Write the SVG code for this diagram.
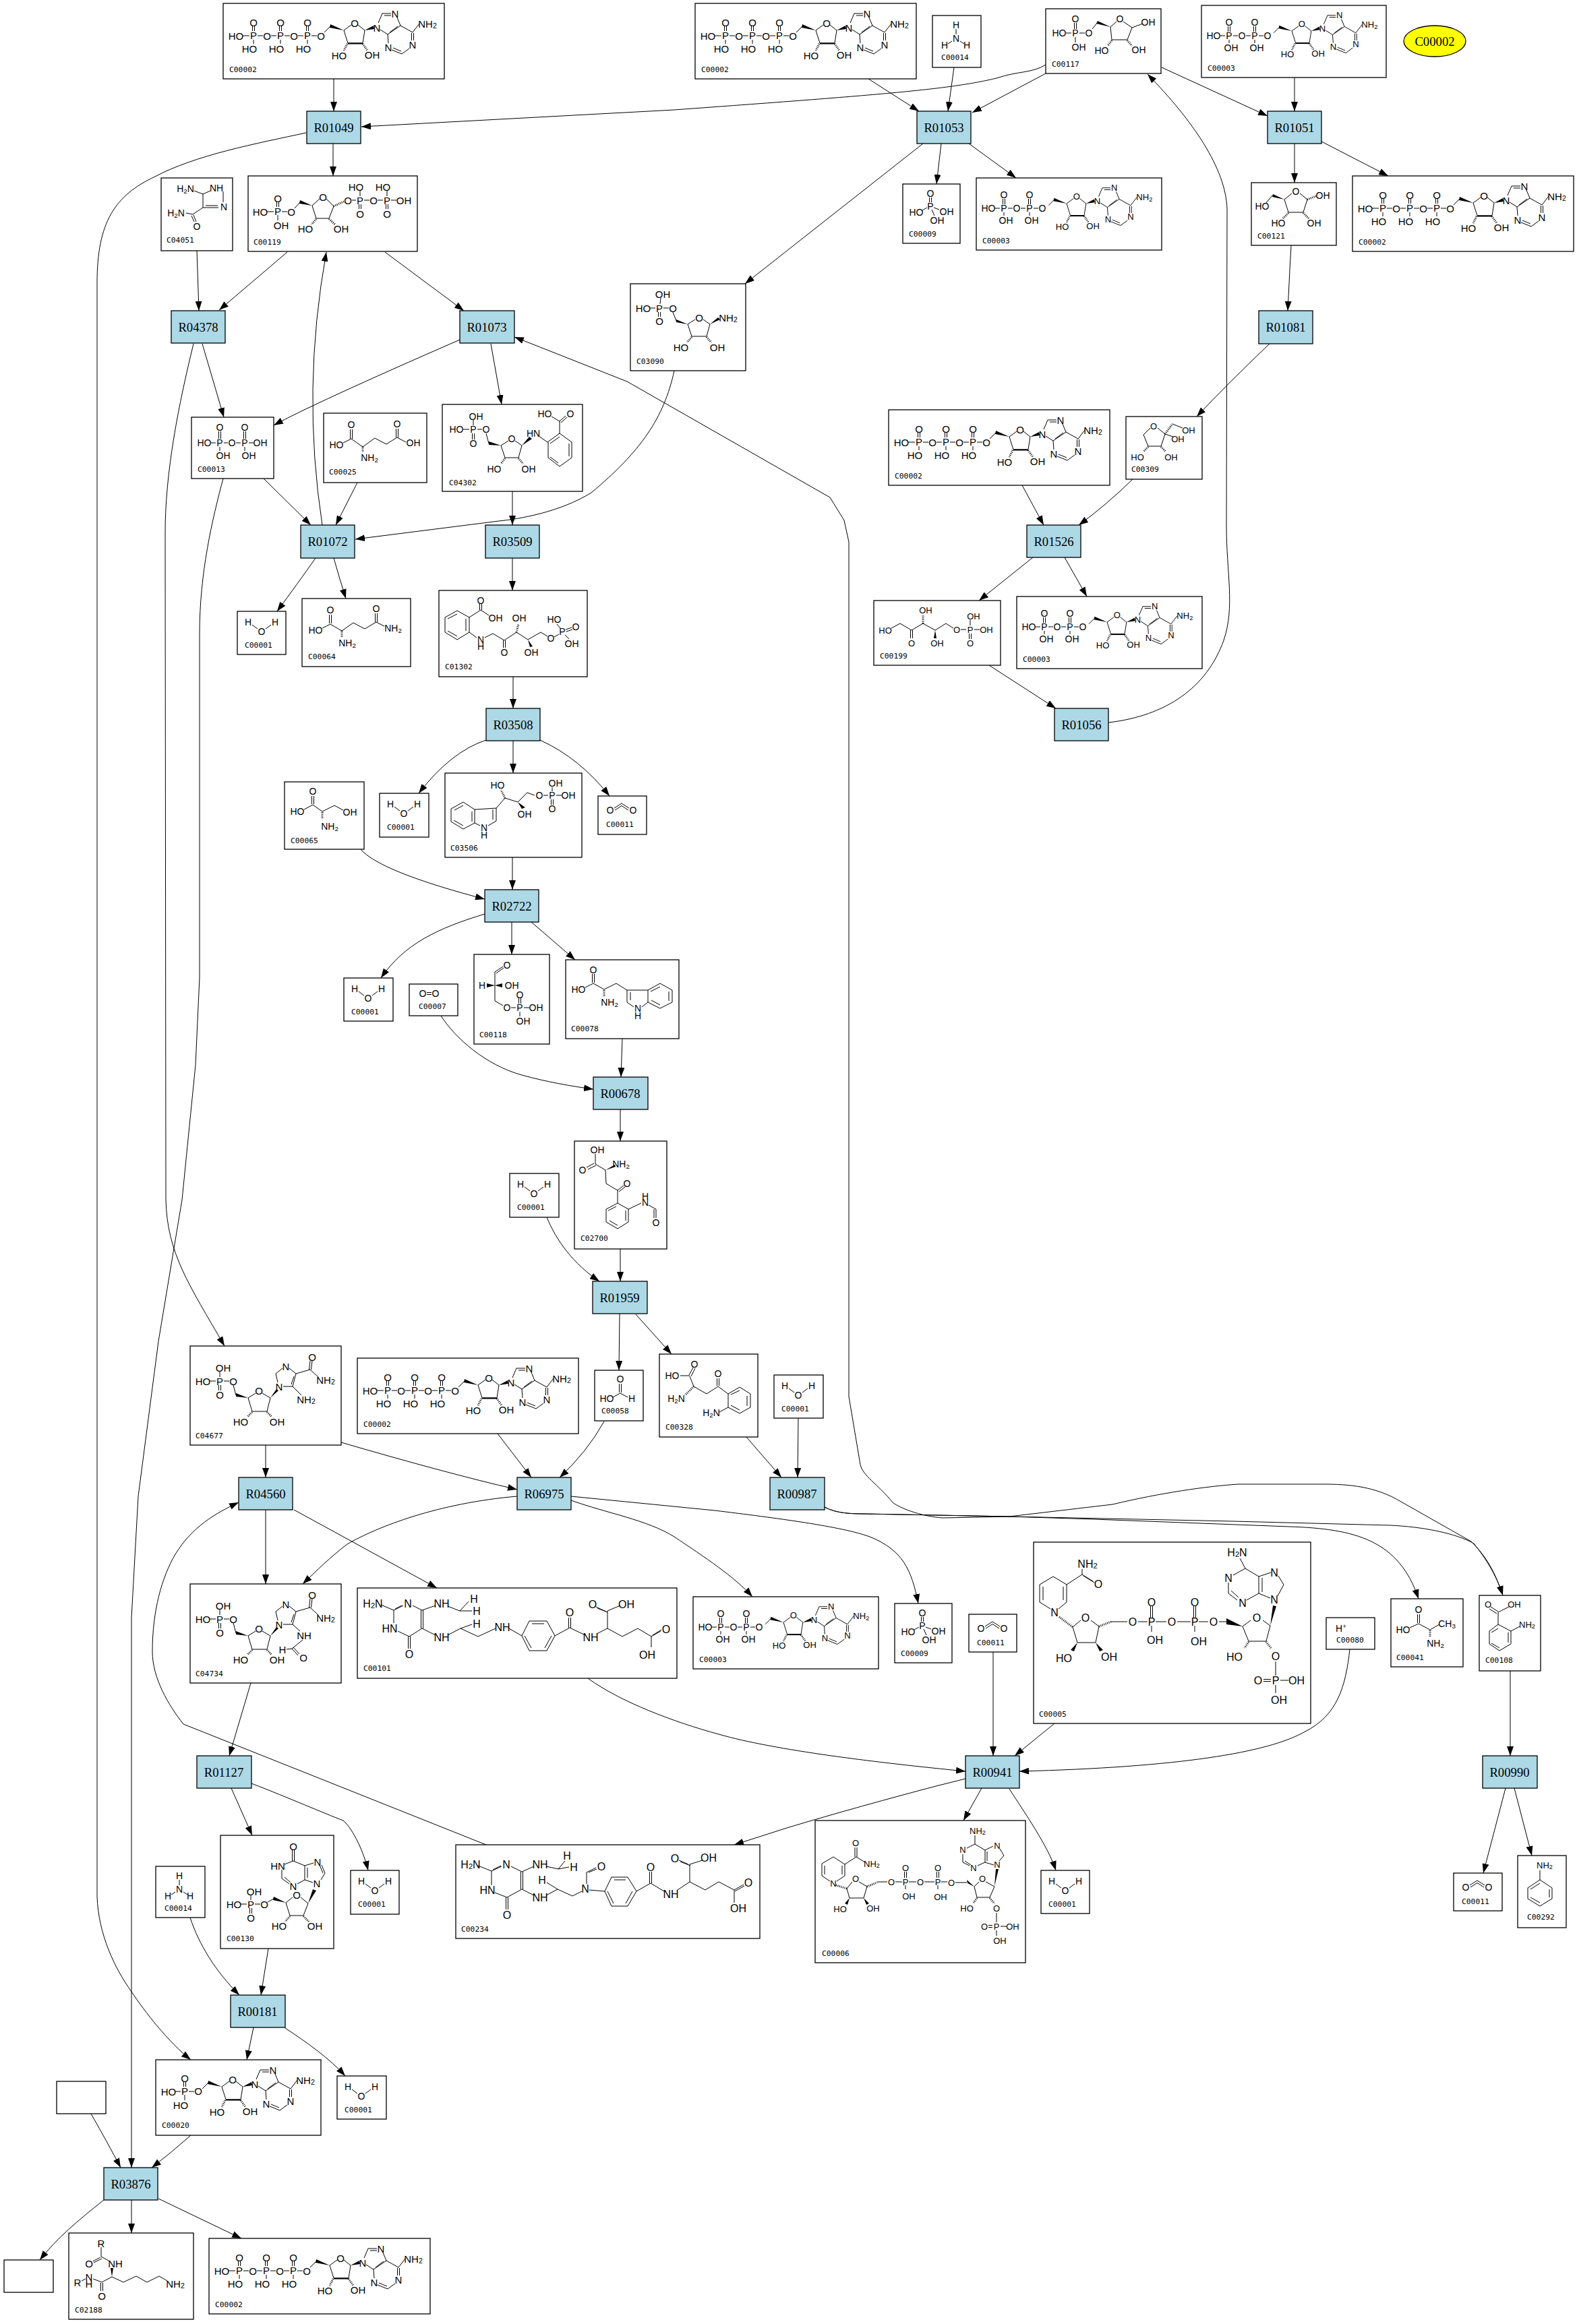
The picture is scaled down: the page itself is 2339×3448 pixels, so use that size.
<svg xmlns="http://www.w3.org/2000/svg" width="2339" height="3448" viewBox="0 0 2339 3448">
<style>
svg{font-size:15px}
.a{font-family:"Liberation Sans",Arial,sans-serif;text-anchor:middle;dominant-baseline:central}
.s{font-size:.7em}
.b{fill:none;stroke:#000;stroke-width:1}
.h{fill:none;stroke:#000;stroke-width:3;stroke-dasharray:1 1.6}
.c{fill:#fff;stroke:#000;stroke-width:1.3}
.r{fill:#add8e6;stroke:#000;stroke-width:1.3}
.y{fill:#ff0;stroke:#000;stroke-width:1.3}
.l{font-family:"DejaVu Sans Mono","Liberation Mono",monospace;font-size:11.3px;dominant-baseline:central}
.t{font-family:"Liberation Serif","Times New Roman",serif;font-size:18.7px;text-anchor:middle;dominant-baseline:central}
.e{fill:none;stroke:#000;stroke-width:1;marker-end:url(#ah)}
</style>
<defs>
<marker id="ah" markerUnits="userSpaceOnUse" markerWidth="14" markerHeight="10" refX="14" refY="5" orient="auto"><polygon points="0,0 14,5 0,10"/></marker>
<g id="ado">
<path class="b" d="M-29,3L-20,-6M0,0L11,-8M21,-8L31,0L28,19L6,19L0,0M51,-11L57,-25H70M60,-22H70M79,-19L84,-7L65,6L54,-1M80,-6L68,3M84,-7L102,3L112,-10M100.5,4V15M103.5,4V15M65,6L66,19M71,29L86,35L97,27M73,26L85,31"/>
<path class="b" stroke-width="2" d="M6,19.500H28" style="stroke-width:2"/>
<polygon points="-20,-9 -21,-4 0,0"/><polygon points="31,0 44,-7 45,-2"/>
<path class="h" d="M5,20L0,30M28,20L35,30"/>
<text class="a" x="16" y="-11">O</text><text class="a" x="-7" y="37">HO</text><text class="a" x="42" y="36">OH</text><text class="a" x="49" y="-4">N</text><text class="a" x="76" y="-25">N</text><text class="a" x="102" y="21">N</text><text class="a" x="66" y="25">N</text><text class="a" x="124" y="-10">NH<tspan class="s" dy="3">2</tspan></text>
</g>
<g id="atp">
<path class="b" d="M29,48H39M51,48H59M71,48H79M91,48H99M111,48H119M131,48H139M43.5,34V41M46.5,34V41M83.5,34V41M86.5,34V41M123.5,34V41M126.5,34V41M45,54V60M85,54V60M125,54V60"/>
<text class="a" x="19" y="48">HO</text><text class="a" x="45" y="47">P</text><text class="a" x="45" y="28">O</text><text class="a" x="39" y="67">HO</text><text class="a" x="65" y="48">O</text><text class="a" x="85" y="47">P</text><text class="a" x="85" y="28">O</text><text class="a" x="79" y="67">HO</text><text class="a" x="105" y="48">O</text><text class="a" x="125" y="47">P</text><text class="a" x="125" y="28">O</text><text class="a" x="119" y="67">HO</text><text class="a" x="145" y="48">O</text>
<use href="#ado" x="179" y="40"/>
</g>
<g id="adp" font-size="14">
<path class="b" d="M27,45H35M47,45H54M66,45H73M85,45H92M39.5,31V39M42.5,31V39M77.5,31V39M80.5,31V39M41,51V56M79,51V56"/>
<text class="a" x="18" y="45">HO</text><text class="a" x="41" y="45">P</text><text class="a" x="41" y="25">O</text><text class="a" x="44" y="63">OH</text><text class="a" x="60" y="45">O</text><text class="a" x="79" y="45">P</text><text class="a" x="79" y="25">O</text><text class="a" x="82" y="63">OH</text><text class="a" x="98" y="45">O</text>
<use href="#ado" transform="translate(134,38) scale(.93)"/>
</g>
<g id="amp">
<path class="b" d="M29,47H37M49,47H57M41.500,33V40M44.500,33V40M43,52V60"/>
<text class="a" x="19" y="47">HO</text><text class="a" x="43" y="46">P</text><text class="a" x="43" y="27">O</text><text class="a" x="37" y="67">HO</text><text class="a" x="63" y="46">O</text>
<use href="#ado" x="98" y="40"/>
</g>
<g id="prpp">
<path class="b" d="M28,53H38M50,53H58M42.500,39V46M45.500,39V46M44,58V66M69,48L77,39M95,44L106,34M116,34L127,45L120,63L101,63L95,44M154,36H160M172,36H180M192,36H200M212,36H220M166,22V30M206,22V30M164.500,42V49M167.500,42V49M204.500,42V49M207.500,42V49"/>
<polygon points="77,36 76,41 95,44"/><path class="h" d="M101,64L94,72M120,64L129,72M127,45L142,38"/>
<text class="a" x="18" y="53">HO</text><text class="a" x="44" y="52">P</text><text class="a" x="44" y="33">O</text><text class="a" x="49" y="73">OH</text><text class="a" x="64" y="53">O</text><text class="a" x="111" y="31">O</text><text class="a" x="85" y="78">HO</text><text class="a" x="138" y="78">OH</text><text class="a" x="148" y="36">O</text><text class="a" x="166" y="36">P</text><text class="a" x="160" y="16">HO</text><text class="a" x="166" y="56">O</text><text class="a" x="186" y="36">O</text><text class="a" x="206" y="36">P</text><text class="a" x="200" y="16">HO</text><text class="a" x="206" y="56">O</text><text class="a" x="231" y="36">OH</text>
</g>
<g id="m04051" font-size="14">
<path class="b" d="M49,19L62,24V44H85M66,41H84M62,24L73,19M92,20V36M62,44L47,54L37,52M45,56L49,65M48,55L52,65"/>
<text class="a" x="36" y="16">H<tspan class="s" dy="3">2</tspan><tspan dy="-3">N</tspan></text><text class="a" x="82" y="15">NH</text><text class="a" x="93" y="43">N</text><text class="a" x="22" y="52">H<tspan class="s" dy="3">2</tspan><tspan dy="-3">N</tspan></text><text class="a" x="53" y="72">O</text>
</g>
<g id="ppi" font-size="14">
<path class="b" d="M29,38H36M48,38H54M66,38H73M85,38H92M40.500,21V32M43.500,21V32M77.500,21V32M80.500,21V32M42,44V50M79,44V50"/>
<text class="a" x="19" y="38">HO</text><text class="a" x="42" y="38">P</text><text class="a" x="42" y="15">O</text><text class="a" x="47" y="57">OH</text><text class="a" x="60" y="38">O</text><text class="a" x="79" y="38">P</text><text class="a" x="79" y="15">O</text><text class="a" x="85" y="57">OH</text><text class="a" x="102" y="38">OH</text>
</g>
<g id="glu" font-size="14">
<path class="b" d="M39.500,24V38M42.500,24V38M41,38L29,44M41,38L58,50L76,37L93,46L109,36L122,43M107.500,23V36M110.500,23V36"/><path class="h" d="M58,50V58"/>
<text class="a" x="41" y="17">O</text><text class="a" x="19" y="47">HO</text><text class="a" x="68" y="66">NH<tspan class="s" dy="3">2</tspan></text><text class="a" x="109" y="16">O</text><text class="a" x="133" y="44">OH</text>
</g>
<g id="gln" font-size="14">
<path class="b" d="M40.500,24V37M43.500,24V37M42,38L30,44M42,38L59,48L76,36L93,45L110,35L122,41M108.500,22V35M111.500,22V35"/><path class="h" d="M59,48V57"/>
<text class="a" x="42" y="17">O</text><text class="a" x="20" y="47">HO</text><text class="a" x="67" y="66">NH<tspan class="s" dy="3">2</tspan></text><text class="a" x="110" y="15">O</text><text class="a" x="135" y="44">NH<tspan class="s" dy="3">2</tspan></text>
</g>
<g id="ser" font-size="14">
<path class="b" d="M40.500,21V33M43.500,21V33M42,34L29,41M42,34L56,44L74,35L87,42"/><path class="h" d="M56,45V55"/>
<text class="a" x="42" y="14">O</text><text class="a" x="19" y="44">HO</text><text class="a" x="67" y="66">NH<tspan class="s" dy="3">2</tspan></text><text class="a" x="97" y="45">OH</text>
</g>
<g id="ala" font-size="14">
<path class="b" d="M39.500,23V36M42.500,23V36M41,37L28,43M41,37L58,46L72,38"/><path class="h" d="M58,47V56"/>
<text class="a" x="41" y="16">O</text><text class="a" x="18" y="46">HO</text><text class="a" x="83" y="37">CH<tspan class="s" dy="3">3</tspan></text><text class="a" x="66" y="66">NH<tspan class="s" dy="3">2</tspan></text>
</g>
<g id="h2o" font-size="14">
<path class="b" d="M22,20L30,26M42,26L50,20"/><text class="a" x="16" y="16">H</text><text class="a" x="36" y="30">O</text><text class="a" x="56" y="16">H</text>
</g>
<g id="co2" font-size="14">
<path class="b" d="M24,18L35,11L46,18M25,21L35,14.500L45,21"/><text class="a" x="18" y="21">O</text><text class="a" x="52" y="21">O</text>
</g>
<g id="o2" font-size="14">
<path class="b" d="M26,12.500H33M26,15.500H33"/><text class="a" x="20" y="14">O</text><text class="a" x="39" y="14">O</text>
</g>
<g id="nh3" font-size="14">
<path class="b" d="M35,20V28M29,38L23,42M41,38L47,42"/><text class="a" x="35" y="14">H</text><text class="a" x="35" y="34">N</text><text class="a" x="18" y="44">H</text><text class="a" x="51" y="44">H</text>
</g>
<g id="fa" font-size="14">
<path class="b" d="M36.500,20V33M39.500,20V33M38,34L27,40M38,34L49,40"/><text class="a" x="38" y="13">O</text><text class="a" x="18" y="42">HO</text><text class="a" x="55" y="42">H</text>
</g>
<g id="pi" font-size="14">
<path class="b" d="M39.500,20V27M42.500,20V27M36,35L29,39M46,35L54,38M43,38L47,47"/><text class="a" x="41" y="14">O</text><text class="a" x="41" y="33">P</text><text class="a" x="20" y="42">HO</text><text class="a" x="65" y="41">OH</text><text class="a" x="51" y="54">OH</text>
</g>
<g id="gap" font-size="14">
<path class="b" d="M31,46V26L43,18M33,28L44,20M31,46V69L43,76M55,79H62M74,79H82M66.500,65V73M69.500,65V73M68,85V92"/><polygon points="31,46 19,43 19,49"/><polygon points="31,46 42,43 42,49"/>
<text class="a" x="49" y="16">O</text><text class="a" x="12" y="46">H</text><text class="a" x="56" y="46">OH</text><text class="a" x="49" y="79">O</text><text class="a" x="68" y="79">P</text><text class="a" x="68" y="60">O</text><text class="a" x="92" y="79">OH</text><text class="a" x="73" y="99">OH</text>
</g>
<g id="m04302" font-size="14">
<path class="b" d="M46,23V31M31,37H40M52,37H59M44.500,43V52M47.500,43V52M65,43L69,58M87,61L98,54M108,54L118,61L113,79H93L87,61M156,56L174,43L192,56V79L174,92L157,79V56M160,58L174,48M188,58V77M172,87L160,78M143,47L156,56M174,43V25L162,18M174,25L183,17M176,27L185,19"/><polygon points="69,55 69,60 87,61"/><polygon points="118,61 129,48 133,51"/><path class="h" d="M93,80L87,88M113,80L120,88"/>
<text class="a" x="50" y="18">OH</text><text class="a" x="21" y="37">HO</text><text class="a" x="46" y="37">P</text><text class="a" x="46" y="58">O</text><text class="a" x="65" y="37">O</text><text class="a" x="103" y="51">O</text><text class="a" x="77" y="96">HO</text><text class="a" x="128" y="96">OH</text><text class="a" x="135" y="43">HN</text><text class="a" x="152" y="14">HO</text><text class="a" x="190" y="14">O</text>
</g>
<g id="m01302" font-size="14">
<path class="b" d="M45,40V62L27,73L9,62V40L27,30L45,40M40,42V60M27,68L13,60M13,42L27,35M45,40L62,29L74,37M60.500,29V20M63.500,29V20M45,62L56,70M68,70L80,64L97,74L115,62L132,73L151,62L161,68M95.500,74V85M98.500,74V85M171,69L178,65M180,56L175,50M188,58L197,55M189,61L198,58M187,66L193,72"/><polygon points="132,73 135,84 139,83"/><path class="h" d="M115,62L118,50"/>
<text class="a" x="62" y="15">O</text><text class="a" x="84" y="41">OH</text><text class="a" x="62" y="73">N</text><text class="a" x="62" y="83">H</text><text class="a" x="97" y="92">O</text><text class="a" x="119" y="41">OH</text><text class="a" x="137" y="92">OH</text><text class="a" x="166" y="71">O</text><text class="a" x="183" y="61">P</text><text class="a" x="171" y="43">HO</text><text class="a" x="203" y="54">O</text><text class="a" x="197" y="79">OH</text>
</g>
<g id="m03506" font-size="14">
<path class="b" d="M9,53L27,43L44,54V74L27,83L9,72ZM14,55L27,48M40,57V72M27,78L13,70M44,54L76,52V71L64,78M52,78L44,74M71,54V69M76,52L89,37L108,43L122,29L133,33M146,33H153M165,33H173M159,21V27M157.500,39V47M160.500,39V47"/><path class="h" d="M89,37L83,25"/><polygon points="108,43 114,53 119,51"/>
<text class="a" x="58" y="81">N</text><text class="a" x="58" y="92">H</text><text class="a" x="78" y="18">HO</text><text class="a" x="118" y="61">OH</text><text class="a" x="140" y="33">O</text><text class="a" x="159" y="33">P</text><text class="a" x="164" y="15">OH</text><text class="a" x="183" y="33">OH</text><text class="a" x="159" y="53">O</text>
</g>
<g id="trp" font-size="14">
<path class="b" d="M39.500,21V34M42.500,21V34M41,35L29,41M41,35L57,44L75,35L91,45V63L101,70M113,70L122,63V45L91,45M96,48V60M122,45L140,35L158,45V63L140,72L122,63M126,47L140,40M153,47V61M140,67L127,60"/><path class="h" d="M57,45V54"/>
<text class="a" x="41" y="15">O</text><text class="a" x="19" y="44">HO</text><text class="a" x="65" y="63">NH<tspan class="s" dy="3">2</tspan></text><text class="a" x="107" y="72">N</text><text class="a" x="107" y="83">H</text>
</g>
<g id="m02700" font-size="14">
<path class="b" d="M31,34V19M31,34L46,43L47,63L64,73V92M29,33L18,39M32,36L20,42M64,73L73,66M66,75L75,68M64,92L80,101V120L64,130L47,120V101ZM62,97L50,103M76,103V118M64,125L52,118M80,101L99,92M110,95L121,101V114M118,101V114"/><polygon points="46,43 60,35 61,38"/>
<text class="a" x="34" y="13">OH</text><text class="a" x="12" y="43">O</text><text class="a" x="69" y="34">NH<tspan class="s" dy="3">2</tspan></text><text class="a" x="78" y="63">O</text><text class="a" x="105" y="91">N</text><text class="a" x="105" y="82">H</text><text class="a" x="121" y="121">O</text>
</g>
<g id="m00328" font-size="14">
<path class="b" d="M45,33L51,48L70,59L87,48L102,59M85.500,36V47M88.500,36V47M31,32H45M44,31L50,20M47,33L53,21M102,59L119,49L135,59V79L119,88L102,79ZM106,60L119,54M130,62V77M119,83L106,76M102,79L89,86"/><path class="h" d="M51,48L38,61"/>
<text class="a" x="52" y="15">O</text><text class="a" x="19" y="32">HO</text><text class="a" x="25" y="66">H<tspan class="s" dy="3">2</tspan><tspan dy="-3">N</tspan></text><text class="a" x="87" y="29">O</text><text class="a" x="77" y="87">H<tspan class="s" dy="3">2</tspan><tspan dy="-3">N</tspan></text>
</g>
<g id="air">
<path class="b" d="M44,38V46M29,52H38M50,52H58M42.500,58V66M45.500,58V66M64,58L68,73M86,77L97,70M107,70L119,77L114,97H92L86,77M130,54L127,41L137,33M147,33L157,41L152,60H138M154,45L150,57M157,41L178,35M176.500,35L178,22M179.500,35L181,22M178,35L190,46"/><polygon points="68,70 68,75 86,77"/><polygon points="119,77 128,64 131,66"/><path class="h" d="M92,98L85,105M114,98L121,105"/>
<text class="a" x="49" y="32">OH</text><text class="a" x="19" y="52">HO</text><text class="a" x="44" y="52">P</text><text class="a" x="44" y="72">O</text><text class="a" x="64" y="52">O</text><text class="a" x="102" y="66">O</text><text class="a" x="75" y="112">HO</text><text class="a" x="129" y="112">OH</text><text class="a" x="132" y="60">N</text><text class="a" x="142" y="30">N</text><text class="a" x="181" y="16">O</text><text class="a" x="201" y="50">NH<tspan class="s" dy="3">2</tspan></text>
</g>
<g id="m04677"><use href="#air"/><path class="b" d="M152,60L165,73"/><text class="a" x="172" y="79">NH<tspan class="s" dy="3">2</tspan></text></g>
<g id="m04734"><use href="#air"/><path class="b" d="M152,60L163,70M167,83L151,96L143,97M151,96L160,106M153,94L162,104"/><text class="a" x="169" y="76">NH</text><text class="a" x="137" y="97">H</text><text class="a" x="168" y="109">O</text></g>
<g id="thf" font-size="16">
<path class="b" d="M35,25L54,33L68,26M54,33V52M56,31L66,26M82,26L96,33L116,26M94.500,33V60M97.500,33V60M96,60L116,70M96,60L77,72L60,64M75.500,72V90M78.500,72V90M134,27L152,34L165,20M152,34H170M134,70L153,60L170,54M153,60L179,72L205,60M225,60L244,71L255,49H281L293,71L281,93H255L244,71M259,53H277M288,71L278,89M258,89L248,71M293,71L315,59M313.500,59V44M316.500,59V44M315,59L338,70M355,68L371,60V34M369,35L354,28M371,36L356,30M371,34L390,26M371,60L393,72L416,60L436,72L450,64M438,70L451,62M436,72V88"/>
<text class="a" x="23" y="23">H<tspan class="s" dy="3">2</tspan><tspan dy="-3">N</tspan></text><text class="a" x="75" y="23">N</text><text class="a" x="125" y="23">NH</text><text class="a" x="173" y="16">H</text><text class="a" x="177" y="34">H</text><text class="a" x="177" y="53">H</text><text class="a" x="215" y="58">NH</text><text class="a" x="125" y="73">NH</text><text class="a" x="77" y="98">O</text><text class="a" x="48" y="60">HN</text><text class="a" x="315" y="36">O</text><text class="a" x="346" y="73">NH</text><text class="a" x="349" y="24">O</text><text class="a" x="399" y="24">OH</text><text class="a" x="458" y="61">O</text><text class="a" x="430" y="99">OH</text>
</g>
<g id="fthf" font-size="16">
<path class="b" d="M33,31L53,39L68,32M53,39V60M55,37L67,31M82,32L98,40L116,32M96.500,40V66M99.500,40V66M98,66L116,75M98,66L76,78L58,71M74.500,78V96M77.500,78V96M134,32L152,36L162,24M152,36L168,33M134,75L151,66L135,56M151,66L173,76L187,69M194,58V41L208,34M197,41L209,36M198,67L221,69M221,69L231,48H255L268,69L255,91H231ZM235,52H252M262,69L252,87M234,87L225,69M268,69L289,57M287.500,57V40M290.500,57V40M289,57L309,69M329,67L347,55V29M345,29L331,23M348,31L333,25M347,29L366,23M347,55L370,67L390,55L413,67L427,59M414,69L428,61M413,67V86"/>
<text class="a" x="22" y="29">H<tspan class="s" dy="3">2</tspan><tspan dy="-3">N</tspan></text><text class="a" x="75" y="29">N</text><text class="a" x="125" y="29">NH</text><text class="a" x="165" y="16">H</text><text class="a" x="175" y="33">H</text><text class="a" x="128" y="52">H</text><text class="a" x="192" y="65">N</text><text class="a" x="216" y="32">O</text><text class="a" x="125" y="78">NH</text><text class="a" x="76" y="104">O</text><text class="a" x="47" y="67">HN</text><text class="a" x="289" y="33">O</text><text class="a" x="319" y="73">NH</text><text class="a" x="325" y="20">O</text><text class="a" x="375" y="19">OH</text><text class="a" x="434" y="56">O</text><text class="a" x="419" y="94">OH</text>
</g>
<g id="nadph" font-size="16">
<path class="b" d="M72,40V48L49,63M72,48L88,58M74,50L90,60M49,63L29,51L9,63V89L25,99M37,99L49,89V63M14,66V86M44,66V86M58,126L70,116M85,116L97,125L92,149H65L58,126M115,118H139M155,118H169M181,118H197M213,118H233M245,118H259M173.500,95V112M176.500,95V112M237.500,95V112M240.500,95V112M175,124V133M239,124V133M275,118H286M310,125L322,116M340,116L351,124L345,147H319L310,125M359,177V198M341,203.500H352M341,206.500H352M366,205H378M359,212V224M362,80L371,63L363,50M352,45L334,51V76M339,53V74M334,76L351,83M334,51L314,39L296,49M314,39L306,24M289,60V76L302,86M334,76L316,86M293,72L304,82"/>
<path class="h" d="M38,111L58,126M97,125L115,118M319,148L313,157M345,148L352,157"/>
<polygon points="65,149 55,160 60,162"/><polygon points="92,149 98,162 103,160"/><polygon points="286,113 286,122 310,125"/><polygon points="351,124 355,94 360,95"/>
<text class="a" x="80" y="32">NH<tspan class="s" dy="3">2</tspan></text><text class="a" x="96" y="62">O</text><text class="a" x="31" y="104">N</text><text class="a" x="77" y="112">O</text><text class="a" x="45" y="172">HO</text><text class="a" x="112" y="170">OH</text><text class="a" x="147" y="118">O</text><text class="a" x="175" y="118">P</text><text class="a" x="175" y="89">O</text><text class="a" x="180" y="145">OH</text><text class="a" x="205" y="118">O</text><text class="a" x="239" y="118">P</text><text class="a" x="239" y="89">O</text><text class="a" x="245" y="147">OH</text><text class="a" x="267" y="118">O</text><text class="a" x="331" y="112">O</text><text class="a" x="298" y="170">HO</text><text class="a" x="359" y="169">O</text><text class="a" x="359" y="205">P</text><text class="a" x="333" y="205">O</text><text class="a" x="390" y="205">OH</text><text class="a" x="364" y="234">OH</text><text class="a" x="357" y="85">N</text><text class="a" x="357" y="45">N</text><text class="a" x="289" y="53">N</text><text class="a" x="310" y="90">N</text><text class="a" x="302" y="15">H<tspan class="s" dy="3">2</tspan><tspan dy="-3">N</tspan></text>
</g>
<g id="nadp" font-size="13">
<path class="b" d="M44,65L27,54L10,64V82L22,90M32,90L44,82V65M14,67V80M40,67V80M44,65L61,54L74,62M59,54V40M62,54V40M47,101L55,91M65,91L77,98L72,115H51L47,101M92,91H107M119,91H129M139,91H150M162,91H177M187,91H196M132.500,76V85M135.500,76V85M180.500,76V85M183.500,76V85M134,96V102M182,96V102M208,92H225M236,98L243,91M253,91L266,98L259,114H240L236,98M269,137V151M257,155.500H263M257,158.500H263M275,157H284M269,163V171M273,60L280,52L274,42M264,38L252,44V62M255,46V60M252,62L265,66M252,44L237,35L225,41M237,35V22M219,50V62L229,67M252,62L241,67M222,60L231,66"/>
<path class="h" d="M31,96L47,101M77,98L92,92M240,115L235,122M259,115L266,123"/>
<polygon points="51,115 44,123 48,125"/><polygon points="72,115 76,125 80,123"/><polygon points="225,88 226,93 236,98"/><polygon points="266,98 268,72 272,72"/>
<text class="a" x="84" y="64">NH<tspan class="s" dy="3">2</tspan></text><text class="a" x="60" y="33">O</text><text class="a" x="27" y="93">N</text><text class="a" x="60" y="86">O</text><text class="a" x="37" y="131">HO</text><text class="a" x="86" y="130">OH</text><text class="a" x="113" y="91">O</text><text class="a" x="134" y="91">P</text><text class="a" x="134" y="70">O</text><text class="a" x="139" y="112">OH</text><text class="a" x="156" y="91">O</text><text class="a" x="182" y="91">P</text><text class="a" x="182" y="70">O</text><text class="a" x="186" y="113">OH</text><text class="a" x="202" y="92">O</text><text class="a" x="248" y="86">O</text><text class="a" x="225" y="130">HO</text><text class="a" x="269" y="130">O</text><text class="a" x="269" y="157">P</text><text class="a" x="251" y="157">O</text><text class="a" x="293" y="157">OH</text><text class="a" x="274" y="178">OH</text><text class="a" x="270" y="65">N</text><text class="a" x="270" y="37">N</text><text class="a" x="219" y="43">N</text><text class="a" x="235" y="70">N</text><text class="a" x="241" y="15">NH<tspan class="s" dy="3">2</tspan></text>
</g>
<g id="imp">
<path class="b" d="M106.500,22V38M109.500,22V38M108,38L95,43M91,51V64L102,72M95,62L104,70M114,72L125,66V45L108,38M129,63V48M125,45L138,41M150,44L155,56L149,66M147,44L152,56M125,66L137,70M130,101L119,92M107,92L97,100L103,119H123L130,101M79,94L70,99M51,102H59M30,102H39M45,89V96M43.500,108V116M46.500,108V116"/>
<polygon points="130,101 137,80 142,82"/><polygon points="97,100 79,91 78,96"/><path class="h" d="M103,120L96,128M123,120L131,128"/>
<text class="a" x="108" y="16">O</text><text class="a" x="85" y="45">HN</text><text class="a" x="108" y="75">N</text><text class="a" x="144" y="39">N</text><text class="a" x="143" y="71">N</text><text class="a" x="113" y="88">O</text><text class="a" x="87" y="134">HO</text><text class="a" x="140" y="134">OH</text><text class="a" x="65" y="102">O</text><text class="a" x="45" y="102">P</text><text class="a" x="20" y="102">HO</text><text class="a" x="50" y="83">OH</text><text class="a" x="45" y="122">O</text>
</g>
<g id="m02188">
<path class="b" d="M48,21V35L61,42M47,36L36,42M49,38L37,44M64,65L49,73M47.500,74V86M50.500,74V86M49,73L36,68M64,65L81,73L100,64L116,73L134,64L146,71M19,71L25,68"/><polygon points="64,65 62,52 66,52"/>
<text class="a" x="48" y="15">R</text><text class="a" x="30" y="45">O</text><text class="a" x="69" y="45">NH</text><text class="a" x="49" y="93">O</text><text class="a" x="30" y="65">N</text><text class="a" x="30" y="75">H</text><text class="a" x="13" y="73">R</text><text class="a" x="158" y="75">NH<tspan class="s" dy="3">2</tspan></text>
</g>
<g id="r5p" font-size="14">
<path class="b" d="M42.500,21V30M45.500,21V30M30,36H38M50,36H58M44,42V50M69,30L77,20M96,27L105,19M115,19L128,28L121,46H98L96,27M128,28L144,22"/><polygon points="77,18 75,22 96,27"/><path class="h" d="M98,47L92,55M121,47L128,55"/>
<text class="a" x="44" y="15">O</text><text class="a" x="20" y="36">HO</text><text class="a" x="44" y="36">P</text><text class="a" x="49" y="57">OH</text><text class="a" x="64" y="36">O</text><text class="a" x="110" y="15">O</text><text class="a" x="152" y="20">OH</text><text class="a" x="83" y="62">HO</text><text class="a" x="138" y="61">OH</text>
</g>
<g id="rib" font-size="14">
<path class="b" d="M49,25L60,16M72,16L83,25L77,44H55L49,25M31,19L22,30"/><polygon points="49,25 32,17 31,21"/><path class="h" d="M83,25L96,20M55,45L47,53M77,45L85,53"/>
<text class="a" x="66" y="13">O</text><text class="a" x="106" y="19">OH</text><text class="a" x="16" y="35">HO</text><text class="a" x="40" y="60">HO</text><text class="a" x="93" y="60">OH</text>
</g>
<g id="pra">
<path class="b" d="M45,21L44,30M29,36H37M49,36H57M41.500,42V49M44.500,42V49M63,42L68,55M85,60L96,53M108,53L118,60L113,78H91L85,60"/><polygon points="68,53 68,57 85,60"/><polygon points="118,60 130,50 133,53"/><path class="h" d="M91,79L84,87M113,79L120,87"/>
<text class="a" x="48" y="15">OH</text><text class="a" x="19" y="36">HO</text><text class="a" x="43" y="36">P</text><text class="a" x="43" y="55">O</text><text class="a" x="63" y="36">O</text><text class="a" x="102" y="50">O</text><text class="a" x="145" y="50">NH<tspan class="s" dy="3">2</tspan></text><text class="a" x="75" y="94">HO</text><text class="a" x="129" y="94">OH</text>
</g>
<g id="m00309" font-size="13">
<path class="b" d="M36,17L26,27L33,44H52L58,26L47,17M58,26L70,30"/><path class="h" d="M58,26L69,11M33,45L26,52M52,45L59,52"/><path class="b" d="M69,11L84,17"/>
<text class="a" x="41" y="14">O</text><text class="a" x="77" y="33">OH</text><text class="a" x="93" y="20">OH</text><text class="a" x="17" y="60">HO</text><text class="a" x="67" y="60">OH</text>
</g>
<g id="m00199" font-size="13">
<path class="b" d="M26,41L39,34L56,44L73,34L91,44L107,34L118,41M54.500,44V56M57.500,44V56M129,43H137M149,43H157M143,29V37M141.500,49V57M144.500,49V57"/><path class="h" d="M73,34V21"/><polygon points="91,44 89,56 93,56"/>
<text class="a" x="77" y="14">OH</text><text class="a" x="17" y="44">HO</text><text class="a" x="56" y="63">O</text><text class="a" x="94" y="63">OH</text><text class="a" x="123" y="43">O</text><text class="a" x="143" y="43">P</text><text class="a" x="148" y="23">OH</text><text class="a" x="167" y="43">OH</text><text class="a" x="143" y="63">O</text>
</g>
<g id="m00108" font-size="13">
<path class="b" d="M28,25V43M17,17L28,24M15,20L26,27M28,25L44,17M28,43L47,53V72L30,82L15,72V53ZM43,55V70M30,78L18,71M18,55L28,49M47,53L60,46"/>
<text class="a" x="13" y="13">O</text><text class="a" x="52" y="13">OH</text><text class="a" x="71" y="43">NH<tspan class="s" dy="3">2</tspan></text>
</g>
<g id="m00292" font-size="13">
<path class="b" d="M33,22V36L51,48V64L33,75L15,64V48L33,36M47,50V62M33,70L19,62M19,50L33,41"/>
<text class="a" x="40" y="14">NH<tspan class="s" dy="3">2</tspan></text>
</g>
</defs>
<g id="connectors">
<path class="e" d="M495,117V165"/>
<path class="e" d="M1551,96C1530,109 1510,105 1478,116C1410,132 1330,139 1000,163L536,188"/>
<path class="e" d="M494,213V261"/>
<path class="e" d="M454,197C380,213 290,230 230,262C170,290 144,330 144,420L144,2814C146,2870 170,2920 195,2955C215,2985 250,3030 283,3056"/>
<path class="e" d="M1415,100L1406,165"/>
<path class="e" d="M1288,117L1363,165"/>
<path class="e" d="M1551,109L1442,167"/>
<path class="e" d="M1723,100L1880,172"/>
<path class="e" d="M1920,115V165"/>
<path class="e" d="M1396,213L1389,273"/>
<path class="e" d="M1437,213L1507,264"/>
<path class="e" d="M1369,213L1105,421"/>
<path class="e" d="M1920,213V271"/>
<path class="e" d="M1960,210L2059,261"/>
<path class="e" d="M1915,364L1913,400L1910,461"/>
<path class="e" d="M1883,510Q1820,570 1775,618"/>
<path class="e" d="M1644,1072C1730,1062 1790,1020 1815,950C1832,900 1819,850 1819,780L1820,310C1818,250 1770,180 1702,110"/>
<path class="e" d="M426,374Q371,421 325,460"/>
<path class="e" d="M292,372L295,461"/>
<path class="e" d="M571,374L688,461"/>
<path class="e" d="M478,779Q447,578 484,374"/>
<path class="e" d="M300,510L332,619"/>
<path class="e" d="M287,510C265,600 245,700 245,790L246,1780C248,1860 280,1905 333,1997"/>
<path class="e" d="M682,504Q462,600 406,631"/>
<path class="e" d="M728,510L744,600"/>
<path class="e" d="M1000,550C985,620 950,670 877,731C830,760 770,770 740,773L527,800"/>
<path class="e" d="M391,710L461,779"/>
<path class="e" d="M530,716L498,779"/>
<path class="e" d="M760,729V779"/>
<path class="e" d="M468,828Q442,865 411,907"/>
<path class="e" d="M495,828Q504,860 513,888"/>
<path class="e" d="M760,828V876"/>
<path class="e" d="M761,1004V1051"/>
<path class="e" d="M721,1098Q669,1115 621,1177"/>
<path class="e" d="M761,1099V1147"/>
<path class="e" d="M801,1098Q860,1125 904,1181"/>
<path class="e" d="M760,1272V1320"/>
<path class="e" d="M535,1260Q563,1293 719,1334"/>
<path class="e" d="M719,1356C650,1377 600,1400 565,1451"/>
<path class="e" d="M759,1368V1416"/>
<path class="e" d="M788,1368L853,1424"/>
<path class="e" d="M923,1541L921,1598"/>
<path class="e" d="M654,1507C675,1540 720,1580 774,1595C810,1605 850,1612 880,1616"/>
<path class="e" d="M920,1646V1693"/>
<path class="e" d="M920,1853V1901"/>
<path class="e" d="M811,1806C825,1840 850,1875 889,1901"/>
<path class="e" d="M919,1949L918,2033"/>
<path class="e" d="M943,1950L996,2009"/>
<path class="e" d="M1107,2132L1159,2192"/>
<path class="e" d="M1184,2104L1183,2192"/>
<path class="e" d="M738,2127L788,2192"/>
<path class="e" d="M896,2109Q870,2155 830,2192"/>
<path class="e" d="M506,2140Q660,2185 767,2210"/>
<path class="e" d="M394,2144V2192"/>
<path class="e" d="M394,2240V2350"/>
<path class="e" d="M436,2240L648,2356"/>
<path class="e" d="M767,2220C650,2230 560,2265 515,2291C490,2310 470,2330 449,2350"/>
<path class="e" d="M847,2226C900,2245 960,2255 1000,2280C1045,2310 1090,2340 1116,2369"/>
<path class="e" d="M847,2220L1060,2241C1150,2252 1250,2265 1290,2280C1340,2300 1352,2330 1362,2379"/>
<path class="e" d="M1223,2236C1240,2245 1260,2246 1282,2246L1497,2250L1829,2257L2061,2263C2110,2265 2160,2275 2186,2290C2210,2320 2222,2345 2229,2367"/>
<path class="e" d="M1223,2236C1240,2245 1260,2246 1282,2246L1497,2250L1622,2254L1912,2265C2010,2268 2075,2285 2104,2372"/>
<path class="e" d="M2229,2367C2215,2325 2200,2305 2182,2287L2078,2228C2040,2205 2000,2202 1962,2202L1837,2202C1790,2205 1721,2215 1650,2232L1497,2250L1398,2252C1370,2250 1340,2240 1325,2230C1300,2200 1280,2190 1276,2173L1259,2072L1259,804L1252,772L1231,738L930,566L763,500"/>
<path class="e" d="M1473,2451V2605"/>
<path class="e" d="M1564,2557L1505,2605"/>
<path class="e" d="M2002,2447C1996,2500 1985,2545 1934,2570C1880,2600 1750,2622 1512,2628"/>
<path class="e" d="M872,2490C920,2525 1000,2555 1066,2573C1150,2597 1300,2615 1432,2628"/>
<path class="e" d="M1432,2639L1388,2650C1320,2668 1240,2690 1167,2712L1089,2737"/>
<path class="e" d="M1456,2653L1429,2701"/>
<path class="e" d="M1497,2654C1520,2690 1555,2740 1566,2775"/>
<path class="e" d="M2240,2479V2605"/>
<path class="e" d="M2233,2653L2200,2779"/>
<path class="e" d="M2246,2653L2272,2753"/>
<path class="e" d="M721,2737L272,2558C250,2530 226,2490 226,2450C226,2390 240,2340 260,2306C285,2265 320,2245 354,2229"/>
<path class="e" d="M331,710C315,770 296,850 296,940L296,1450L290,1580L270,1780L235,1990L205,2220L195,2400V3216"/>
<path class="e" d="M283,3168Q255,3193 225,3216"/>
<path class="e" d="M135,3136Q160,3180 179,3216"/>
<path class="e" d="M154,3264C115,3295 85,3320 59,3353"/>
<path class="e" d="M195,3264V3313"/>
<path class="e" d="M235,3262L358,3321"/>
<path class="e" d="M372,2497L340,2605"/>
<path class="e" d="M343,2653L374,2723"/>
<path class="e" d="M373,2646C430,2668 480,2690 509,2701C525,2715 540,2750 546,2775"/>
<path class="e" d="M282,2845C295,2885 320,2925 355,2960"/>
<path class="e" d="M398,2891L387,2960"/>
<path class="e" d="M376,3008L366,3056"/>
<path class="e" d="M423,3009C455,3030 490,3055 512,3080"/>
<path class="e" d="M1516,720L1548,779"/>
<path class="e" d="M1680,711Q1640,750 1600,779"/>
<path class="e" d="M1532,827L1452,891"/>
<path class="e" d="M1579,827L1612,885"/>
<path class="e" d="M1467,987L1566,1051"/>
</g>
<g id="C00002-a" transform="translate(331,5)"><rect class="c" width="328" height="112"/><use href="#atp"/><text class="l" x="9" y="98">C00002</text></g>
<g id="R01049" transform="translate(455,165)"><rect class="r" width="80" height="48"/><text class="t" x="40" y="24">R01049</text></g>
<g id="C00119" transform="translate(368,261)"><rect class="c" width="251" height="112"/><use href="#prpp"/><text class="l" x="8" y="98">C00119</text></g>
<g id="C00002-b" transform="translate(1031,5)"><rect class="c" width="328" height="112"/><use href="#atp"/><text class="l" x="9" y="98">C00002</text></g>
<g id="C00014-a" transform="translate(1383,23)"><rect class="c" width="72" height="77"/><use href="#nh3"/><text class="l" x="13" y="62">C00014</text></g>
<g id="C00117" transform="translate(1551,13)"><rect class="c" width="171" height="96"/><use href="#r5p"/><text class="l" x="9" y="82">C00117</text></g>
<g id="C00003-a" transform="translate(1782,8)"><rect class="c" width="274" height="107"/><use href="#adp"/><text class="l" x="9" y="93">C00003</text></g>
<g id="C00002-y"><ellipse class="y" cx="2128" cy="61" rx="46" ry="23"/><text class="t" x="2128" y="61">C00002</text></g>
<g id="R01053" transform="translate(1360,165)"><rect class="r" width="80" height="48"/><text class="t" x="40" y="24">R01053</text></g>
<g id="R01051" transform="translate(1880,165)"><rect class="r" width="80" height="48"/><text class="t" x="40" y="24">R01051</text></g>
<g id="C00009-a" transform="translate(1339,273)"><rect class="c" width="85" height="88"/><use href="#pi"/><text class="l" x="9" y="74">C00009</text></g>
<g id="C00003-b" transform="translate(1448,264)"><rect class="c" width="275" height="107"/><use href="#adp"/><text class="l" x="9" y="93">C00003</text></g>
<g id="C00121" transform="translate(1856,271)"><rect class="c" width="126" height="93"/><use href="#rib"/><text class="l" x="9" y="79">C00121</text></g>
<g id="C00002-c" transform="translate(2006,261)"><rect class="c" width="328" height="112"/><use href="#atp"/><text class="l" x="9" y="98">C00002</text></g>
<g id="C03090" transform="translate(935,421)"><rect class="c" width="171" height="129"/><use href="#pra"/><text class="l" x="9" y="115">C03090</text></g>
<g id="C04051" transform="translate(239,264)"><rect class="c" width="106" height="108"/><use href="#m04051"/><text class="l" x="8" y="92">C04051</text></g>
<g id="R04378" transform="translate(254,461)"><rect class="r" width="80" height="48"/><text class="t" x="40" y="24">R04378</text></g>
<g id="R01073" transform="translate(682,461)"><rect class="r" width="81" height="48"/><text class="t" x="40" y="24">R01073</text></g>
<g id="C00013" transform="translate(284,619)"><rect class="c" width="122" height="91"/><use href="#ppi"/><text class="l" x="9" y="77">C00013</text></g>
<g id="C00025" transform="translate(480,613)"><rect class="c" width="153" height="103"/><use href="#glu"/><text class="l" x="8" y="87">C00025</text></g>
<g id="C04302" transform="translate(656,600)"><rect class="c" width="208" height="129"/><use href="#m04302"/><text class="l" x="10" y="116">C04302</text></g>
<g id="R01072" transform="translate(446,779)"><rect class="r" width="80" height="49"/><text class="t" x="40" y="24">R01072</text></g>
<g id="R03509" transform="translate(720,779)"><rect class="r" width="80" height="49"/><text class="t" x="40" y="24">R03509</text></g>
<g id="C00001-a" transform="translate(352,907)"><rect class="c" width="72" height="64"/><use href="#h2o"/><text class="l" x="11" y="50">C00001</text></g>
<g id="C00064" transform="translate(448,888)"><rect class="c" width="161" height="101"/><use href="#gln"/><text class="l" x="9" y="86">C00064</text></g>
<g id="C01302" transform="translate(651,876)"><rect class="c" width="220" height="128"/><use href="#m01302"/><text class="l" x="9" y="113">C01302</text></g>
<g id="R01081" transform="translate(1867,461)"><rect class="r" width="80" height="49"/><text class="t" x="40" y="24">R01081</text></g>
<g id="C00002-d" transform="translate(1318,608)"><rect class="c" width="328" height="112"/><use href="#atp"/><text class="l" x="9" y="98">C00002</text></g>
<g id="C00309" transform="translate(1670,618)"><rect class="c" width="113" height="93"/><use href="#m00309"/><text class="l" x="8" y="78">C00309</text></g>
<g id="R01526" transform="translate(1523,779)"><rect class="r" width="80" height="48"/><text class="t" x="40" y="24">R01526</text></g>
<g id="C00199" transform="translate(1296,891)"><rect class="c" width="188" height="96"/><use href="#m00199"/><text class="l" x="9" y="82">C00199</text></g>
<g id="C00003-c" transform="translate(1508,885)"><rect class="c" width="275" height="107"/><use href="#adp"/><text class="l" x="9" y="93">C00003</text></g>
<g id="R01056" transform="translate(1564,1051)"><rect class="r" width="80" height="48"/><text class="t" x="40" y="24">R01056</text></g>
<g id="R03508" transform="translate(721,1051)"><rect class="r" width="80" height="48"/><text class="t" x="40" y="24">R03508</text></g>
<g id="C00065" transform="translate(422,1160)"><rect class="c" width="118" height="100"/><use href="#ser"/><text class="l" x="9" y="87">C00065</text></g>
<g id="C00001-b" transform="translate(563,1177)"><rect class="c" width="73" height="65"/><use href="#h2o"/><text class="l" x="11" y="50">C00001</text></g>
<g id="C03506" transform="translate(660,1147)"><rect class="c" width="203" height="125"/><use href="#m03506"/><text class="l" x="8" y="111">C03506</text></g>
<g id="C00011-a" transform="translate(887,1181)"><rect class="c" width="72" height="57"/><use href="#co2"/><text class="l" x="12" y="42">C00011</text></g>
<g id="R02722" transform="translate(719,1320)"><rect class="r" width="80" height="48"/><text class="t" x="40" y="24">R02722</text></g>
<g id="C00001-c" transform="translate(510,1451)"><rect class="c" width="73" height="64"/><use href="#h2o"/><text class="l" x="11" y="50">C00001</text></g>
<g id="C00007" transform="translate(607,1460)"><rect class="c" width="72" height="47"/><use href="#o2"/><text class="l" x="14" y="33">C00007</text></g>
<g id="C00118" transform="translate(703,1416)"><rect class="c" width="112" height="133"/><use href="#gap"/><text class="l" x="8" y="119">C00118</text></g>
<g id="C00078" transform="translate(839,1424)"><rect class="c" width="168" height="117"/><use href="#trp"/><text class="l" x="8" y="102">C00078</text></g>
<g id="R00678" transform="translate(880,1598)"><rect class="r" width="81" height="48"/><text class="t" x="40" y="24">R00678</text></g>
<g id="C02700" transform="translate(852,1693)"><rect class="c" width="137" height="160"/><use href="#m02700"/><text class="l" x="9" y="144">C02700</text></g>
<g id="C00001-d" transform="translate(756,1741)"><rect class="c" width="73" height="65"/><use href="#h2o"/><text class="l" x="11" y="50">C00001</text></g>
<g id="R01959" transform="translate(879,1901)"><rect class="r" width="81" height="48"/><text class="t" x="40" y="24">R01959</text></g>
<g id="C04677" transform="translate(282,1997)"><rect class="c" width="224" height="147"/><use href="#m04677"/><text class="l" x="8" y="133">C04677</text></g>
<g id="C00002-e" transform="translate(530,2015)"><rect class="c" width="328" height="112"/><use href="#atp"/><text class="l" x="9" y="98">C00002</text></g>
<g id="C00058" transform="translate(882,2033)"><rect class="c" width="72" height="75"/><use href="#fa"/><text class="l" x="10" y="60">C00058</text></g>
<g id="C00328" transform="translate(978,2009)"><rect class="c" width="146" height="123"/><use href="#m00328"/><text class="l" x="9" y="108">C00328</text></g>
<g id="C00001-e" transform="translate(1148,2040)"><rect class="c" width="73" height="64"/><use href="#h2o"/><text class="l" x="11" y="50">C00001</text></g>
<g id="R04560" transform="translate(354,2192)"><rect class="r" width="80" height="48"/><text class="t" x="40" y="24">R04560</text></g>
<g id="R06975" transform="translate(767,2192)"><rect class="r" width="80" height="48"/><text class="t" x="40" y="24">R06975</text></g>
<g id="R00987" transform="translate(1142,2192)"><rect class="r" width="81" height="48"/><text class="t" x="40" y="24">R00987</text></g>
<g id="C04734" transform="translate(282,2350)"><rect class="c" width="224" height="147"/><use href="#m04734"/><text class="l" x="8" y="133">C04734</text></g>
<g id="C00101" transform="translate(530,2356)"><rect class="c" width="474" height="134"/><use href="#thf"/><text class="l" x="9" y="119">C00101</text></g>
<g id="C00003-d" transform="translate(1028,2369)"><rect class="c" width="275" height="107"/><use href="#adp"/><text class="l" x="9" y="93">C00003</text></g>
<g id="C00009-b" transform="translate(1327,2379)"><rect class="c" width="85" height="88"/><use href="#pi"/><text class="l" x="9" y="74">C00009</text></g>
<g id="C00011-b" transform="translate(1437,2395)"><rect class="c" width="71" height="56"/><use href="#co2"/><text class="l" x="12" y="42">C00011</text></g>
<g id="C00005" transform="translate(1533,2288)"><rect class="c" width="411" height="269"/><use href="#nadph"/><text class="l" x="8" y="255">C00005</text></g>
<g id="C00080" transform="translate(1967,2400)"><rect class="c" width="72" height="47"/><text class="a" x="22" y="16" font-size="14">H<tspan class="s" dy="-4">+</tspan></text><text class="l" x="15" y="33">C00080</text></g>
<g id="C00041" transform="translate(2063,2372)"><rect class="c" width="107" height="101"/><use href="#ala"/><text class="l" x="8" y="87">C00041</text></g>
<g id="C00108" transform="translate(2194,2367)"><rect class="c" width="91" height="112"/><use href="#m00108"/><text class="l" x="9" y="96">C00108</text></g>
<g id="R01127" transform="translate(292,2605)"><rect class="r" width="81" height="48"/><text class="t" x="40" y="24">R01127</text></g>
<g id="R00941" transform="translate(1432,2605)"><rect class="r" width="80" height="48"/><text class="t" x="40" y="24">R00941</text></g>
<g id="R00990" transform="translate(2199,2605)"><rect class="r" width="81" height="48"/><text class="t" x="40" y="24">R00990</text></g>
<g id="C00234" transform="translate(676,2737)"><rect class="c" width="451" height="139"/><use href="#fthf"/><text class="l" x="8" y="125">C00234</text></g>
<g id="C00006" transform="translate(1209,2701)"><rect class="c" width="312" height="211"/><use href="#nadp"/><text class="l" x="10" y="197">C00006</text></g>
<g id="C00130" transform="translate(327,2723)"><rect class="c" width="168" height="168"/><use href="#imp"/><text class="l" x="9" y="153">C00130</text></g>
<g id="C00014-b" transform="translate(231,2769)"><rect class="c" width="73" height="76"/><use href="#nh3"/><text class="l" x="13" y="62">C00014</text></g>
<g id="C00001-f" transform="translate(520,2775)"><rect class="c" width="72" height="65"/><use href="#h2o"/><text class="l" x="11" y="50">C00001</text></g>
<g id="C00001-g" transform="translate(1544,2775)"><rect class="c" width="72" height="64"/><use href="#h2o"/><text class="l" x="11" y="50">C00001</text></g>
<g id="C00011-c" transform="translate(2156,2779)"><rect class="c" width="72" height="56"/><use href="#co2"/><text class="l" x="12" y="42">C00011</text></g>
<g id="C00292" transform="translate(2251,2753)"><rect class="c" width="72" height="107"/><use href="#m00292"/><text class="l" x="14" y="91">C00292</text></g>
<g id="R00181" transform="translate(342,2960)"><rect class="r" width="81" height="48"/><text class="t" x="40" y="24">R00181</text></g>
<g id="C00020" transform="translate(231,3056)"><rect class="c" width="245" height="112"/><use href="#amp"/><text class="l" x="9" y="97">C00020</text></g>
<g id="C00001-h" transform="translate(500,3080)"><rect class="c" width="73" height="64"/><use href="#h2o"/><text class="l" x="11" y="50">C00001</text></g>
<g id="empty-a" transform="translate(84,3088)"><rect class="c" width="73" height="48"/></g>
<g id="R03876" transform="translate(154,3216)"><rect class="r" width="80" height="48"/><text class="t" x="40" y="24">R03876</text></g>
<g id="empty-b" transform="translate(6,3353)"><rect class="c" width="73" height="48"/></g>
<g id="C02188" transform="translate(102,3313)"><rect class="c" width="185" height="128"/><use href="#m02188"/><text class="l" x="9" y="114">C02188</text></g>
<g id="C00002-f" transform="translate(310,3321)"><rect class="c" width="328" height="112"/><use href="#atp"/><text class="l" x="9" y="98">C00002</text></g>
</svg>
